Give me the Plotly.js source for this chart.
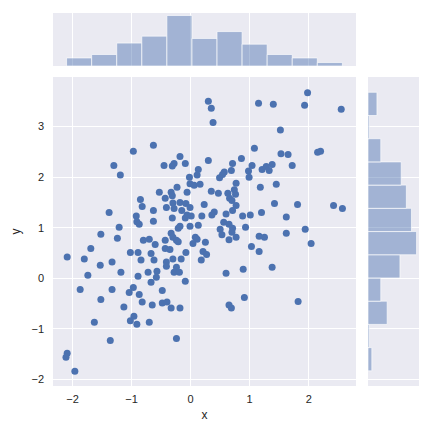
<!DOCTYPE html>
<html>
<head>
<meta charset="utf-8">
<script src="https://cdn.plot.ly/plotly-3.0.1.min.js"></script>
<style>
  html, body { margin: 0; padding: 0; background: #ffffff; }
  #chart { width: 432px; height: 432px; }
</style>
</head>
<body>
<div id="chart"></div>
<script>
// ---- Scatter data ----
const xValues = [
  -0.63,-0.97,-1.30,-1.19,-0.18,-0.45,-0.31,-0.28,-0.09,0.13,
  0.11,-0.02,-0.01,0.06,0.16,-0.23,-0.53,-0.33,-0.31,-0.06,
  -0.43,-0.85,-0.82,-0.30,-0.18,-0.08,-0.41,-0.28,0.23,-0.15,
  -0.01,-0.09,-0.06,0.01,-1.38,-0.63,-0.92,-0.91,-0.87,-0.63,
  -0.31,0.19,-1.21,-0.21,-0.18,-0.01,0.13,
  0.30,0.35,0.38,1.15,1.40,1.98,1.93,2.55,1.52,1.08,
  1.53,1.65,2.15,2.20,0.30,0.86,0.71,1.04,1.38,1.72,
  1.21,1.28,1.33,0.69,0.98,0.99,0.57,0.54,0.49,0.77,
  1.18,1.45,0.35,0.47,0.63,0.74,0.76,0.66,0.70,0.77,
  1.42,1.81,2.42,2.57,0.40,0.36,0.60,0.71,0.88,1.01,
  1.20,1.62,
  0.56,0.65,0.71,0.50,0.53,0.70,0.65,0.77,0.93,1.62,
  1.94,1.16,1.25,2.04,1.03,1.16,0.25,0.21,0.27,0.18,
  1.38,0.89,0.60,0.91,0.65,0.69,1.82,
  -1.52,-1.24,-1.69,-2.09,-1.80,-1.53,-1.33,-1.74,-1.18,-1.02,
  -0.89,-0.80,-0.70,-0.60,-0.67,-0.84,-0.62,-0.43,-0.43,-0.35,
  -0.33,-0.30,-0.24,-0.21,0.08,0.11,0.04,-0.08,-0.16,-0.30,
  -0.41,-0.41,-0.24,-0.28,-0.19,-0.57,-0.72,-0.89,-0.58,-0.67,
  -0.09,-1.87,-1.33,-0.97,-1.04,-0.87,-0.48,-1.52,-1.13,-0.82,
  -0.65,-0.48,-0.40,-0.33,-0.18,-1.63,-0.96,-1.02,-0.91,-0.70,
  -1.36,-0.24,-2.09,-2.11,-1.96
];
const yValues = [
  2.63,2.51,2.23,2.04,2.41,2.23,2.22,2.27,2.27,2.15,
  2.04,2.00,1.87,1.84,1.86,1.80,1.70,1.70,1.63,1.70,
  1.58,1.56,1.42,1.49,1.50,1.48,1.40,1.38,1.46,1.34,
  1.40,1.19,1.25,1.23,1.30,1.34,1.23,1.12,1.07,1.13,
  1.19,1.23,1.01,0.99,1.03,1.03,1.05,
  3.50,3.36,3.08,3.46,3.44,3.67,3.42,3.34,2.93,2.57,
  2.46,2.45,2.49,2.51,2.33,2.37,2.27,2.23,2.25,2.23,
  2.15,2.21,2.13,2.13,2.12,2.00,2.10,2.05,1.99,1.88,
  1.80,1.86,1.72,1.68,1.68,1.75,1.66,1.58,1.54,1.44,
  1.48,1.46,1.44,1.38,1.31,1.25,1.27,1.34,1.23,1.25,
  1.30,1.21,
  1.11,1.07,0.99,0.97,0.86,0.91,0.76,0.81,1.01,0.89,
  0.97,0.83,0.81,0.69,0.63,0.53,0.71,0.53,0.47,0.36,
  0.22,0.18,0.10,-0.38,-0.53,-0.59,-0.46,
  0.87,0.79,0.59,0.42,0.38,0.26,0.32,0.06,0.12,0.51,
  0.51,0.75,0.77,0.67,0.49,0.36,0.36,0.75,0.59,0.57,
  0.89,0.81,0.75,0.72,0.81,0.77,0.69,0.51,0.38,0.38,
  0.32,0.24,0.22,0.12,0.12,0.14,0.12,0.04,0.02,-0.08,
  -0.06,-0.22,-0.22,-0.18,-0.28,-0.32,-0.24,-0.42,-0.57,-0.47,
  -0.53,-0.49,-0.47,-0.59,-0.59,-0.87,-0.75,-0.84,-0.91,-0.87,
  -1.23,-1.19,-1.48,-1.56,-1.84
];

// ---- Marginal histogram counts ----
const xBinStart = -2.10;
const xBinWidth = 0.4245;
const xHistCounts = [7, 10, 20, 26, 44, 24, 30, 19, 10, 7, 3];

const yBinStart = -1.83;
const yBinWidth = 0.459;
const yHistCounts = [3, 1, 15, 10, 25, 38, 34, 30, 26, 10, 1, 7];

// ---- Tick values ----
const xTicks = [-2, -1, 0, 1, 2];
const yTicks = [-2, -1, 0, 1, 2, 3];

const xBinCenters = xHistCounts.map((_, i) => xBinStart + (i + 0.5) * xBinWidth);
const yBinCenters = yHistCounts.map((_, i) => yBinStart + (i + 0.5) * yBinWidth);

const BLUE = '#4C72B0';
const BAR_FILL = 'rgba(76,114,176,0.45)';
const BG = '#EAEAF2';
const TXT = '#262626';
const FONT = 'Liberation Sans, Arial, sans-serif';

const traces = [
  {
    type: 'scatter', mode: 'markers',
    x: xValues, y: yValues,
    xaxis: 'x', yaxis: 'y',
    marker: { color: BLUE, size: 7, line: { width: 0 } },
    hoverinfo: 'skip', showlegend: false
  },
  {
    type: 'bar',
    x: xBinCenters, y: xHistCounts, width: xBinWidth,
    xaxis: 'x3', yaxis: 'y3',
    marker: { color: BAR_FILL, line: { color: 'rgba(255,255,255,0.8)', width: 0.8 } },
    hoverinfo: 'skip', showlegend: false
  },
  {
    type: 'bar', orientation: 'h',
    y: yBinCenters, x: yHistCounts, width: yBinWidth,
    xaxis: 'x2', yaxis: 'y2',
    marker: { color: BAR_FILL, line: { color: 'rgba(255,255,255,0.8)', width: 0.8 } },
    hoverinfo: 'skip', showlegend: false
  }
];

const xMainDomain = [53 / 432, 356 / 432];
const yMainDomain = [(432 - 386) / 432, (432 - 77) / 432];
const xRange = [-2.33, 2.80];
const yRange = [-2.13, 3.98];

const layout = {
  width: 432, height: 432,
  margin: { l: 0, r: 0, t: 0, b: 0, pad: 0 },
  paper_bgcolor: '#ffffff',
  plot_bgcolor: BG,
  font: { family: FONT, size: 11, color: TXT },
  bargap: 0,
  showlegend: false,
  xaxis: {
    domain: xMainDomain, anchor: 'y', range: xRange,
    tickvals: xTicks, ticks: '', showline: false, zeroline: false,
    showgrid: true, gridcolor: '#ffffff', gridwidth: 1,
    tickfont: { size: 11, color: TXT }, ticklabelstandoff: 5,
    title: { text: 'x', font: { size: 12, color: TXT }, standoff: 6 },
    automargin: false
  },
  yaxis: {
    domain: yMainDomain, anchor: 'x', range: yRange,
    tickvals: yTicks, ticks: '', showline: false, zeroline: false,
    showgrid: true, gridcolor: '#ffffff', gridwidth: 1,
    tickfont: { size: 11, color: TXT }, ticklabelstandoff: 8,
    title: { text: 'y', font: { size: 12, color: TXT }, standoff: 8 },
    automargin: false
  },
  xaxis2: {
    domain: [368 / 432, 419 / 432], anchor: 'y2',
    range: [0, Math.max(...yHistCounts) * 1.05],
    showgrid: false, zeroline: false, showline: false,
    showticklabels: false, ticks: ''
  },
  yaxis2: {
    domain: yMainDomain, anchor: 'x2', matches: 'y',
    tickvals: yTicks, showgrid: true, gridcolor: '#ffffff', gridwidth: 1,
    zeroline: false, showline: false, showticklabels: false, ticks: ''
  },
  xaxis3: {
    domain: xMainDomain, anchor: 'y3', matches: 'x',
    tickvals: xTicks, showgrid: true, gridcolor: '#ffffff', gridwidth: 1,
    zeroline: false, showline: false, showticklabels: false, ticks: ''
  },
  yaxis3: {
    domain: [(432 - 66) / 432, (432 - 13) / 432], anchor: 'x3',
    range: [0, Math.max(...xHistCounts) * 1.05],
    showgrid: false, zeroline: false, showline: false,
    showticklabels: false, ticks: ''
  }
};

Plotly.newPlot('chart', traces, layout, { staticPlot: true, displayModeBar: false });
</script>
</body>
</html>
